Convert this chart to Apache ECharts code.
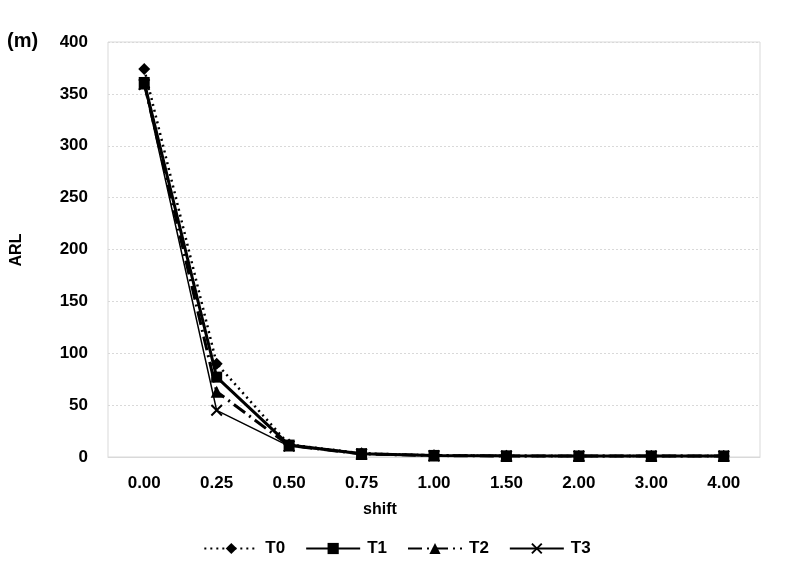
<!DOCTYPE html>
<html>
<head>
<meta charset="utf-8">
<script src="https://cdn.jsdelivr.net/npm/echarts@6/dist/echarts.min.js"></script>
<style>
  html, body { margin: 0; padding: 0; background: #fff; }
  #main { width: 794px; height: 577px; }
</style>
</head>
<body>
<div id="main"></div>
<script>
// shift categories
const shifts = ['0.00', '0.25', '0.50', '0.75', '1.00', '1.50', '2.00', '3.00', '4.00'];
// ARL values
const t0 = [374, 90, 12, 3.5, 1.6, 1.1, 1, 1, 1];
const t1 = [361, 77, 11.5, 3.2, 1.5, 1.1, 1, 1, 1];
const t2 = [360, 63, 11, 3, 1.4, 1, 1, 1, 1];
const t3 = [359, 45, 10.5, 2.9, 1.3, 1, 1, 1, 1];

const font = 'Liberation Sans, Arial, sans-serif';
// X 记号
const crossPath = 'path://M0,1.2L1.2,0L5,3.8L8.8,0L10,1.2L6.2,5L10,8.8L8.8,10L5,6.2L1.2,10L0,8.8L3.8,5Z';

const chart = echarts.init(document.getElementById('main'));
const option = {
  animation: false,
  backgroundColor: '#fff',
  grid: {
    left: 108,
    right: 34,
    top: 42,
    bottom: 120,
    show: true,
    borderColor: '#d9d9d9',
    borderWidth: 1
  },
  legend: {
    top: 535,
    left: 'center',
    itemWidth: 54,
    itemHeight: 14,
    itemGap: 20,
    textStyle: { fontFamily: font, fontWeight: 'bold', fontSize: 17, color: '#000', padding: [0, 0, 0, 2] },
    data: ['T0', 'T1', 'T2', 'T3']
  },
  graphic: [
    { type: 'text', left: 7, top: 31, style: { text: '(m)', fontFamily: font, fontWeight: 'bold', fontSize: 20, fill: '#000' } },
    { type: 'text', x: 380, y: 510, style: { text: 'shift', fontFamily: font, fontWeight: 'bold', fontSize: 16, fill: '#000', align: 'center', verticalAlign: 'middle' } },
    { type: 'text', x: 17, y: 250, rotation: Math.PI / 2, style: { text: 'ARL', fontFamily: font, fontWeight: 'bold', fontSize: 16, fill: '#000', align: 'center', verticalAlign: 'middle' } }
  ],
  xAxis: {
    type: 'category',
    data: shifts,
    boundaryGap: true,
    axisLine: { lineStyle: { color: '#d9d9d9' } },
    axisTick: { show: false },
    axisLabel: { margin: 18, fontFamily: font, fontWeight: 'bold', fontSize: 17, color: '#000' }
  },
  yAxis: {
    type: 'value',
    min: 0,
    max: 400,
    interval: 50,
    axisLine: { show: false },
    axisTick: { show: false },
    splitLine: { lineStyle: { color: '#d9d9d9', type: [2, 2] } },
    axisLabel: { margin: 20, fontFamily: font, fontWeight: 'bold', fontSize: 17, color: '#000' }
  },
  series: [
    {
      name: 'T0',
      type: 'line',
      data: t0,
      symbol: 'diamond',
      symbolSize: 12,
      itemStyle: { color: '#000' },
      lineStyle: { color: '#000', width: 2.5, type: [2, 4] },
      z: 4
    },
    {
      name: 'T1',
      type: 'line',
      data: t1,
      symbol: 'rect',
      symbolSize: 11,
      itemStyle: { color: '#000' },
      lineStyle: { color: '#000', width: 3 },
      z: 3
    },
    {
      name: 'T2',
      type: 'line',
      data: t2,
      symbol: 'triangle',
      symbolSize: 12,
      itemStyle: { color: '#000' },
      lineStyle: { color: '#000', width: 3, type: [14, 5, 2, 5] },
      z: 2
    },
    {
      name: 'T3',
      type: 'line',
      data: t3,
      symbol: crossPath,
      symbolSize: 12,
      itemStyle: { color: '#000' },
      lineStyle: { color: '#000', width: 1.5 },
      z: 1
    }
  ]
};
chart.setOption(option);
</script>
</body>
</html>
